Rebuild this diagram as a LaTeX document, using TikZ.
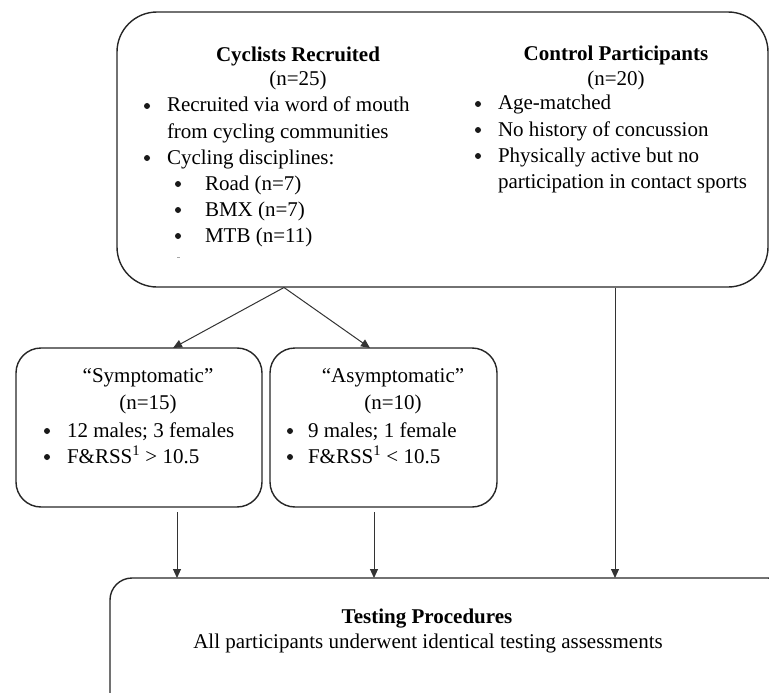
\documentclass[tikz,border=0pt]{standalone}
\usepackage{fontspec}
\setmainfont{Liberation Serif}
\usetikzlibrary{arrows.meta}
\tikzset{
  box/.style={draw=black!85, line width=1.4pt, rectangle, inner sep=0pt},
  arr/.style={draw=black!80, line width=1pt, -{Triangle[length=9pt,width=8pt]}},
  txt/.style={inner sep=0pt, outer sep=0pt, font=\fontsize{21}{25}\selectfont},
  ttl/.style={txt, font=\fontsize{21}{25}\selectfont\bfseries},
  dot/.style={circle, fill=black!90, inner sep=0pt, minimum size=6pt},
}
\newcommand{\bl}[5]{%
  \node[dot] (#1b) at (#2,#4-6) {};
  \node[txt, anchor=base west] (#1) at (#3,#4) {#5};}
\begin{document}
\begin{tikzpicture}[x=1pt,y=-1pt]
\useasboundingbox (0,0) rectangle (769,693);
\clip (0,0) rectangle (769,693);
% boxes
\node[box, rounded corners=40pt, minimum width=651pt, minimum height=275pt] (top) at (442.5,149.5) {};
\node[box, rounded corners=25pt, minimum width=246pt, minimum height=159pt] (symp) at (139,427.5) {};
\node[box, rounded corners=25pt, minimum width=227pt, minimum height=159pt] (asym) at (383.5,427.5) {};
\node[box, rounded corners=22pt, minimum width=680pt, minimum height=142pt] (test) at (450,649) {};
% top-left text
\node[ttl, anchor=base] (cyc) at (298,62) {Cyclists Recruited};
\node[txt, anchor=base] (cycn) at (298,86) {(n=25)};
\bl{c1}{147}{167}{112}{Recruited via word of mouth}
\node[txt, anchor=base west] (c1b2) at (167,138) {from cycling communities};
\bl{c2}{147}{167}{164}{Cycling disciplines:}
\bl{c3}{178}{205}{190}{Road (n=7)}
\bl{c4}{178}{205}{216}{BMX (n=7)}
\bl{c5}{178}{205}{242}{MTB (n=11)}
\draw[black!35, line width=1pt] (177,257) -- (180,257);
% control text
\node[ttl, anchor=base] (ctl) at (616,61) {Control Participants};
\node[txt, anchor=base] (ctln) at (616,86) {(n=20)};
\bl{d1}{478}{498}{110}{Age-matched}
\bl{d2}{478}{498}{136}{No history of concussion}
\bl{d3}{478}{498}{162}{Physically active but no}
\node[txt, anchor=base west] (d3b) at (498,188) {participation in contact sports};
% symptomatic
\node[txt, anchor=base] (st) at (148,382) {“Symptomatic”};
\node[txt, anchor=base] (sn) at (148,409) {(n=15)};
\bl{s1}{47}{67}{437}{12 males; 3 females}
\bl{s2}{47}{67}{463}{F\&RSS\textsuperscript{1} > 10.5}
% asymptomatic
\node[txt, anchor=base] (at) at (393,382) {“Asymptomatic”};
\node[txt, anchor=base] (an) at (393,409) {(n=10)};
\bl{a1}{290}{308}{437}{9 males; 1 female}
\bl{a2}{290}{308}{463}{F\&RSS\textsuperscript{1} < 10.5}
% testing
\node[ttl, anchor=base] (tt) at (427,623) {Testing Procedures};
\node[txt, anchor=base] (tl) at (428,648) {All participants underwent identical testing assessments};
% connector points
\coordinate (sp) at (284,287.5);
\coordinate (sa) at (173,348);
\coordinate (aa) at (370,348);
\coordinate (s0) at (177,512);
\coordinate (s1p) at (177,578);
\coordinate (a0) at (374,512);
\coordinate (a1p) at (374,578);
\coordinate (c0) at (615,287.5);
\coordinate (c1p) at (615,578);
\draw[arr] (sp) -- (sa);
\draw[arr] (sp) -- (aa);
\draw[arr] (s0) -- (s1p);
\draw[arr] (a0) -- (a1p);
\draw[arr] (c0) -- (c1p);
\end{tikzpicture}
\end{document}
